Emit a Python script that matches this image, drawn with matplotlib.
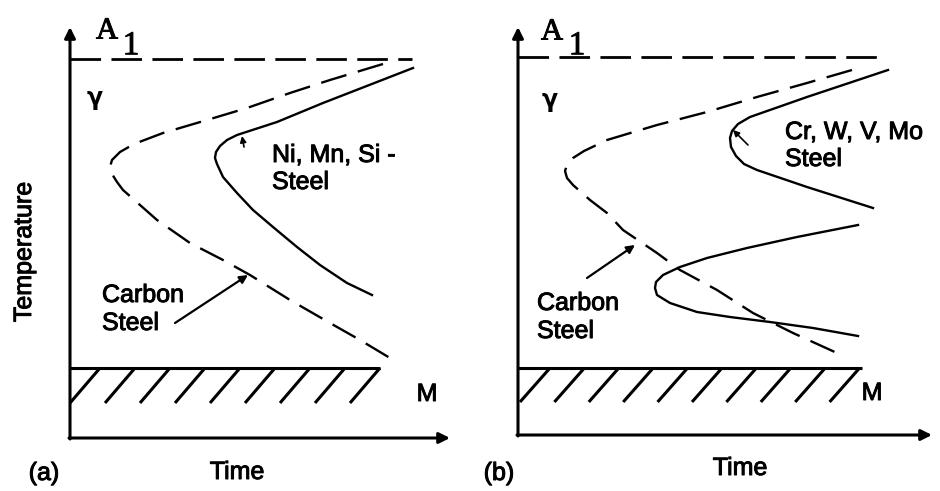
import numpy as np
import matplotlib
matplotlib.use("Agg")
import matplotlib.pyplot as plt
import matplotlib.patheffects as pe

plt.rcParams['lines.scale_dashes'] = False
plt.rcParams['font.family'] = ['Liberation Sans', 'DejaVu Sans']

W, H, DPI = 940, 491, 100

# ---- Panel (a): plain carbon steel vs. Ni, Mn, Si steel (time, temperature; arbitrary units)
a1_temp_a = 379
a1_end_a = 342
carbon_a_time = [313, 303, 260, 220, 177, 137, 93, 64, 50, 42, 40, 42, 47, 53, 70, 87, 120, 153, 180, 220, 260, 290, 320]
carbon_a_temp = [374, 371, 358, 345, 330, 318, 305, 294, 286, 278, 271, 264, 256, 248, 233, 218, 195, 178, 163, 138, 115, 98, 80]
nimnsi_time = [343, 253, 207, 167, 157, 150, 146, 145, 147, 153, 167, 183, 203, 227, 250, 277, 302]
nimnsi_temp = [370, 335, 316, 303, 298, 292, 286, 280, 274, 261, 245, 228, 211, 191, 173, 155, 143]
ms_temp_a = 70
ms_end_a = 310

# ---- Panel (b): plain carbon steel vs. Cr, W, V, Mo steel
a1_temp_b = 378
a1_end_b = 362
carbon_b_time = [334, 289, 239, 189, 139, 89, 66, 55, 49, 47, 49, 55, 72, 89, 105, 139, 162, 199, 235, 275, 319]
carbon_b_temp = [365, 352, 338, 323, 310, 295, 284, 277, 270, 264, 257, 250, 235, 222, 205, 182, 165, 145, 122, 102, 82]
crwvmo_upper_time = [370, 289, 232, 220, 214, 212, 213, 218, 226, 239, 289, 355]
crwvmo_upper_temp = [365, 338, 318, 311, 304, 297, 288, 279, 271, 265, 248, 227]
crwvmo_lower_time = [340, 279, 229, 189, 162, 145, 138, 137, 139, 152, 179, 212, 252, 295, 340]
crwvmo_lower_temp = [210, 198, 187, 177, 168, 160, 153, 147, 140, 132, 123, 118, 113, 107, 99]
ms_temp_b = 67
ms_end_b = 344

fig = plt.figure(figsize=(W / DPI, H / DPI), dpi=DPI)
fig.patch.set_facecolor('white')


def fx(px):
    return px / W


def fy(py):
    return 1 - py / H


def make_panel(x0, y0, x1, y1):
    ax = fig.add_axes([fx(x0), fy(y0), (x1 - x0) / W, (y0 - y1) / H])
    ax.set_xlim(0, x1 - x0)
    ax.set_ylim(0, y0 - y1)
    ax.axis('off')
    return ax


LW = 1.7
DASH_CURVE = (0, (19, 8.5))
DASH_A1 = (0, (22, 7.5))
HEAVY = [pe.withStroke(linewidth=0.7, foreground='black')]
TXT = dict(fontsize=18, color='black', family=['Liberation Sans', 'DejaVu Sans'],
           path_effects=HEAVY)


def axis_arrows(ax, xtip, ytip):
    kw = dict(arrowstyle='-|>', lw=2.2, color='black', mutation_scale=16,
              shrinkA=0, shrinkB=0)
    ax.annotate('', xy=(0, ytip), xytext=(0, -1), arrowprops=kw, annotation_clip=False)
    ax.annotate('', xy=(xtip, 0), xytext=(-1, 0), arrowprops=kw, annotation_clip=False)


def martensite(ax, temp, end, top_start, step, count, height):
    ax.plot([0, end], [temp, temp], color='black', lw=2.2, solid_capstyle='butt')
    for t in top_start + step * np.arange(count):
        x_bot = t - 30
        y_bot = temp - height
        if x_bot < 0:
            y_bot = temp - height * t / 30
            x_bot = 0
        ax.plot([x_bot, t], [y_bot, temp], color='black', lw=2.2, solid_capstyle='butt')


def a1_label(ax, xa, ya, xo, yo):
    ax.text(xa, ya, 'A', fontsize=22, family=['Liberation Serif', 'DejaVu Serif'],
            ha='center', va='center', path_effects=HEAVY)
    ax.text(xo, yo, '1', fontsize=24, family=['Liberation Serif', 'DejaVu Serif'],
            ha='center', va='center', path_effects=HEAVY)


def pointer(ax, tip, tail, lw=1.6, size=12):
    ax.annotate('', xy=tip, xytext=tail,
                arrowprops=dict(arrowstyle='-|>', lw=lw, color='black',
                                mutation_scale=size, shrinkA=0, shrinkB=0))


# ---------------- Panel (a)
axa = make_panel(70, 438, 455, 22)
axis_arrows(axa, 380, 411)
axa.plot([0, a1_end_a], [a1_temp_a, a1_temp_a], color='black', lw=2.0, ls=DASH_A1)
axa.plot(carbon_a_time, carbon_a_temp, color='black', lw=LW, ls=DASH_CURVE)
axa.plot(nimnsi_time, nimnsi_temp, color='black', lw=LW)
martensite(axa, ms_temp_a, ms_end_a, 30, 35, 9, 35)
a1_label(axa, 37, 407, 61, 392)
axa.text(25, 340, 'γ', fontsize=17, fontweight='bold', family='DejaVu Sans', ha='center', va='center')
axa.text(202, 283, 'Ni, Mn, Si -', ha='left', va='center', **TXT)
axa.text(202, 256, 'Steel', ha='left', va='center', **TXT)
axa.text(32, 143, 'Carbon', ha='left', va='center', **TXT)
axa.text(32, 115, 'Steel', ha='left', va='center', **TXT)
axa.text(357, 44, 'M', ha='center', va='center', **TXT)
pointer(axa, (178, 163), (105, 115))
pointer(axa, (172, 302), (174, 291), lw=1.2, size=9)

# ---------------- Panel (b)
axb = make_panel(518, 435, 937, 22)
axis_arrows(axb, 414, 408)
axb.plot([0, a1_end_b], [a1_temp_b, a1_temp_b], color='black', lw=2.0, ls=DASH_A1)
axb.plot(carbon_b_time, carbon_b_temp, color='black', lw=LW, ls=DASH_CURVE)
axb.plot(crwvmo_upper_time, crwvmo_upper_temp, color='black', lw=LW)
axb.plot(crwvmo_lower_time, crwvmo_lower_temp, color='black', lw=LW)
martensite(axb, ms_temp_b, ms_end_b, 32, 34.4, 10, 34)
a1_label(axb, 34, 403, 59, 389)
axb.text(32, 335, 'γ', fontsize=17, fontweight='bold', family='DejaVu Sans', ha='center', va='center')
axb.text(267, 303, 'Cr, W, V, Mo', ha='left', va='center', **TXT)
axb.text(267, 276, 'Steel', ha='left', va='center', **TXT)
axb.text(19, 132, 'Carbon', ha='left', va='center', **TXT)
axb.text(19, 104, 'Steel', ha='left', va='center', **TXT)
axb.text(354, 42, 'M', ha='center', va='center', **TXT)
pointer(axb, (117, 190), (69, 157))
pointer(axb, (215, 305), (230, 290), lw=1.2, size=9)

# ---------------- Shared labels
fig.text(fx(24), fy(252), 'Temperature', rotation=90, ha='center', va='center', **TXT)
fig.text(fx(237), fy(472), 'Time', ha='center', va='center', **TXT)
fig.text(fx(44), fy(473), '(a)', ha='center', va='center', **TXT)
fig.text(fx(740), fy(468), 'Time', ha='center', va='center', **TXT)
fig.text(fx(499), fy(473), '(b)', ha='center', va='center', **TXT)

fig.savefig('out.png', dpi=DPI, facecolor='white')
